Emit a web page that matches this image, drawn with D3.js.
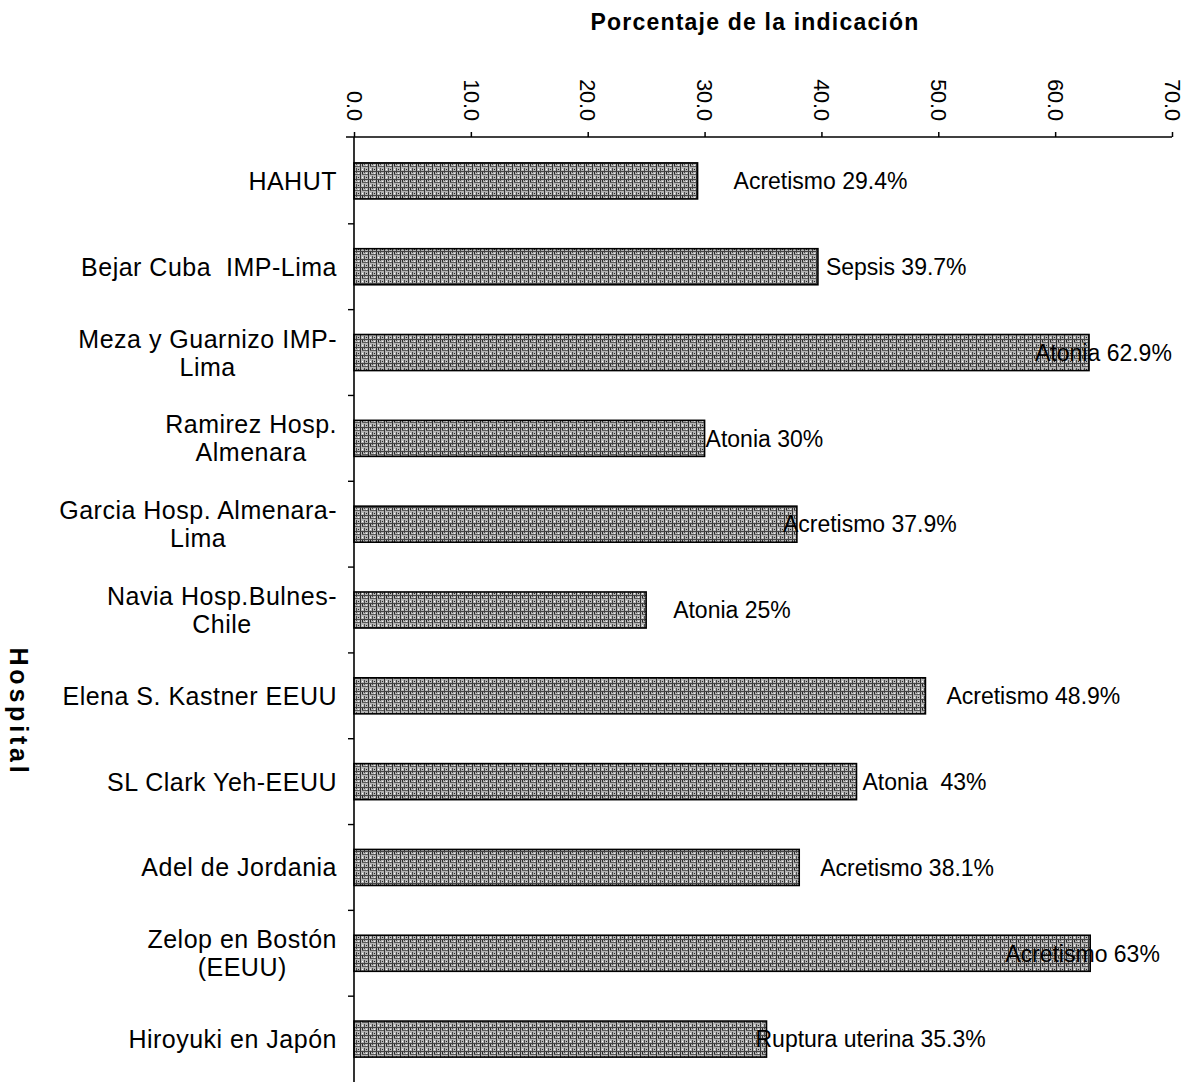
<!DOCTYPE html>
<html>
<head>
<meta charset="utf-8">
<script src="https://cdn.jsdelivr.net/npm/d3@7"></script>
<style>
  body { margin: 0; background: #fff; }
  svg { display: block; font-family: "Liberation Sans", Arial, sans-serif; }
</style>
</head>
<body>
<div id="chart"></div>
<script>
// categories (line breaks as in the original labels)
const hospitals = [
  ['HAHUT'],
  ['Bejar Cuba  IMP-Lima'],
  ['Meza y Guarnizo IMP-', 'Lima'],
  ['Ramirez Hosp.', 'Almenara'],
  ['Garcia Hosp. Almenara-', 'Lima'],
  ['Navia Hosp.Bulnes-', 'Chile'],
  ['Elena S. Kastner EEUU'],
  ['SL Clark Yeh-EEUU'],
  ['Adel de Jordania'],
  ['Zelop en Bostón', '(EEUU)'],
  ['Hiroyuki en Japón'],
];
const percents = [29.4, 39.7, 62.9, 30, 37.9, 25, 48.9, 43, 38.1, 63, 35.3];
const causes = ['Acretismo', 'Sepsis', 'Atonia', 'Atonia', 'Acretismo', 'Atonia',
  'Acretismo', 'Atonia ', 'Acretismo', 'Acretismo', 'Ruptura uterina'];
const xTicks = [0, 10, 20, 30, 40, 50, 60, 70];

// label placement relative to bar end, px (as laid out in the original)
const labelShift = [36, 8, -54, 1, -14, 27, 21, 6, 21, -85, -11];

const width = 1194;
const height = 1082;
const plotLeft = 354;
const plotRight = 1172;
const plotTop = 138;
const plotBottom = 1082;

const svg = d3.select('#chart')
  .append('svg')
  .attr('width', width)
  .attr('height', height);

// dithered grey fill, like the printed original
const defs = svg.append('defs');
const pat = defs.append('pattern')
  .attr('id', 'dither')
  .attr('patternUnits', 'userSpaceOnUse')
  .attr('width', 8)
  .attr('height', 8);
pat.append('rect').attr('width', 8).attr('height', 8).attr('fill', '#b4b4b4');
pat.append('rect').attr('x', 0).attr('y', 0).attr('width', 1).attr('height', 8).attr('fill', '#333');
pat.append('rect').attr('x', 4).attr('y', 0).attr('width', 1).attr('height', 5).attr('fill', '#4a4a4a');
pat.append('rect').attr('x', 0).attr('y', 3).attr('width', 8).attr('height', 1).attr('fill', '#444');
pat.append('rect').attr('x', 2).attr('y', 6).attr('width', 6).attr('height', 1).attr('fill', '#5a5a5a');
pat.append('rect').attr('x', 6).attr('y', 1).attr('width', 1).attr('height', 1).attr('fill', '#222');
pat.append('rect').attr('x', 2).attr('y', 1).attr('width', 1).attr('height', 1).attr('fill', '#fff');
pat.append('rect').attr('x', 6).attr('y', 5).attr('width', 1).attr('height', 1).attr('fill', '#f4f4f4');
pat.append('rect').attr('x', 2).attr('y', 4).attr('width', 1).attr('height', 2).attr('fill', '#2a2a2a');

const x = d3.scaleLinear()
  .domain([0, 70])
  .range([plotLeft, plotRight]);

const keys = hospitals.map((d, i) => i);
const y = d3.scaleBand()
  .domain(keys)
  .range([plotTop, plotBottom])
  .paddingInner(0.58)
  .paddingOuter(0.29);

// bars
svg.append('g')
  .selectAll('rect')
  .data(percents)
  .join('rect')
  .attr('x', x(0))
  .attr('y', (d, i) => y(i))
  .attr('width', d => x(d) - x(0))
  .attr('height', y.bandwidth())
  .attr('fill', 'url(#dither)')
  .attr('stroke', '#000')
  .attr('stroke-width', 1.6);

// value labels
svg.append('g')
  .selectAll('text')
  .data(percents)
  .join('text')
  .attr('x', (d, i) => x(d) + labelShift[i])
  .attr('y', (d, i) => y(i) + y.bandwidth() / 2)
  .attr('dy', '0.36em')
  .attr('font-size', 23)
  .style('white-space', 'pre')
  .text((d, i) => `${causes[i]} ${d}%`);

// top axis
const xAxis = svg.append('g')
  .attr('transform', `translate(0, ${plotTop - 1})`)
  .call(d3.axisTop(x).tickValues(xTicks).tickFormat(d3.format('.1f')).tickSize(5).tickSizeOuter(0));
xAxis.select('.domain').attr('stroke-width', 1.5).attr('d', `M${plotLeft - 8},0H${plotRight}`);
xAxis.selectAll('.tick line').attr('stroke-width', 1.5);
xAxis.selectAll('.tick text')
  .attr('x', 0)
  .attr('y', 0)
  .attr('dy', '0.36em')
  .attr('transform', 'translate(0, -16) rotate(90)')
  .attr('text-anchor', 'end')
  .attr('font-size', 21.5)
  .attr('fill', '#000');

// left axis: line with ticks at category boundaries
const yAxis = svg.append('g');
yAxis.append('line')
  .attr('x1', plotLeft).attr('x2', plotLeft)
  .attr('y1', plotTop - 1).attr('y2', plotBottom)
  .attr('stroke', '#000')
  .attr('stroke-width', 1.6);
yAxis.selectAll('.bound')
  .data(keys.slice(1))
  .join('line')
  .attr('class', 'bound')
  .attr('x1', plotLeft - 6).attr('x2', plotLeft)
  .attr('y1', d => y(d) - (y.step() - y.bandwidth()) / 2)
  .attr('y2', d => y(d) - (y.step() - y.bandwidth()) / 2)
  .attr('stroke', '#000')
  .attr('stroke-width', 1.4);

// category labels: lines centred within their block, block right-aligned
const catG = svg.append('g')
  .selectAll('g')
  .data(hospitals)
  .join('g');
const lineH = 28;
catG.each(function (lines, i) {
  const g = d3.select(this);
  const cy = y(i) + y.bandwidth() / 2;
  const texts = g.selectAll('text')
    .data(lines)
    .join('text')
    .attr('font-size', 25)
    .attr('letter-spacing', 0.5)
    .attr('text-anchor', 'middle')
    .style('white-space', 'pre')
    .attr('y', (d, j) => cy + (j - (lines.length - 1) / 2) * lineH)
    .attr('dy', '0.36em')
    .text(d => d);
  const w = d3.max(texts.nodes(), n => n.getComputedTextLength());
  texts.attr('x', 337 - w / 2);
});

// titles
svg.append('text')
  .attr('x', 755)
  .attr('y', 22)
  .attr('dy', '0.36em')
  .attr('text-anchor', 'middle')
  .attr('font-size', 23)
  .attr('font-weight', 'bold')
  .attr('letter-spacing', 1.2)
  .text('Porcentaje de la indicación');

svg.append('text')
  .attr('transform', 'translate(19, 712) rotate(90)')
  .attr('dy', '0.36em')
  .attr('text-anchor', 'middle')
  .attr('font-size', 25)
  .attr('font-weight', 'bold')
  .attr('letter-spacing', 3.8)
  .text('Hospital');
</script>
</body>
</html>
